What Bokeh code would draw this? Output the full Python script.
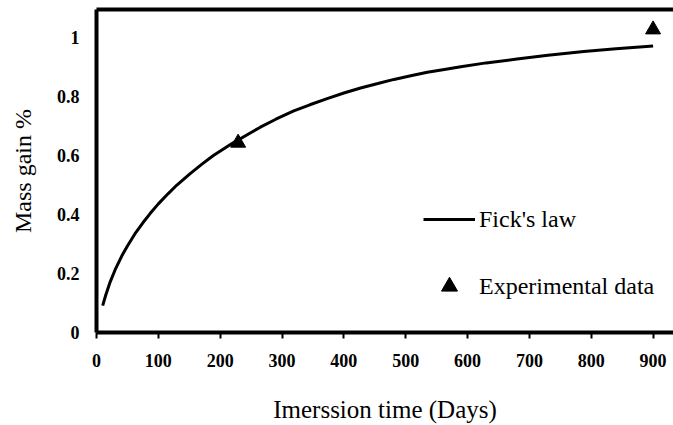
from bokeh.plotting import figure
from bokeh.models import Range1d, LinearAxis, FixedTicker, Legend, LegendItem
from bokeh.embed import file_html
from bokeh.resources import INLINE

# Fick's law curve
fick_days = [10, 15, 22, 30, 41, 50, 62, 75, 87, 100, 116, 130, 151, 170, 189, 221, 250, 265,
             290, 319, 345, 373, 400, 427, 455, 481, 510, 535, 560, 589, 630, 680, 730, 788, 840, 900]
fick_gain = [0.091, 0.127, 0.171, 0.212, 0.26, 0.293, 0.334, 0.372, 0.404, 0.436, 0.471, 0.500,
             0.538, 0.570, 0.600, 0.643, 0.678, 0.696, 0.723, 0.751, 0.772, 0.793, 0.812, 0.829,
             0.844, 0.858, 0.871, 0.882, 0.891, 0.901, 0.914, 0.927, 0.940, 0.953, 0.962, 0.971]

# Experimental data
exp_days = [229, 900]
exp_gain = [0.643, 1.027]

x_ticks = [0, 100, 200, 300, 400, 500, 600, 700, 800, 900]
y_ticks = [0, 0.2, 0.4, 0.6, 0.8, 1]
y_tick_labels = {0: "0", 0.2: "0.2", 0.4: "0.4", 0.6: "0.6", 0.8: "0.8", 1: "1"}

FONT = "Liberation Serif"

p = figure(width=673, height=425, output_backend="svg", toolbar_location=None,
           x_range=Range1d(0, 933), y_range=Range1d(0, 1.095),
           min_border_left=96, min_border_top=9, min_border_right=0, min_border_bottom=0)

p.outline_line_color = None
p.xgrid.visible = False
p.ygrid.visible = False

# bottom axis
xa = p.xaxis[0]
xa.ticker = FixedTicker(ticks=x_ticks)
xa.axis_line_width = 4
xa.axis_line_color = "black"
xa.major_tick_out = 6
xa.major_tick_in = 0
xa.major_tick_line_width = 2
xa.minor_tick_line_color = None
xa.major_label_text_font = FONT
xa.major_label_text_font_style = "bold"
xa.major_label_text_font_size = "18px"
xa.major_label_text_color = "black"
xa.major_label_standoff = 15
xa.axis_label = "Imerssion time (Days)"
xa.axis_label_text_font = FONT
xa.axis_label_text_font_style = "normal"
xa.axis_label_text_font_size = "25px"
xa.axis_label_text_color = "black"
xa.axis_label_standoff = 26

# left axis
ya = p.yaxis[0]
ya.ticker = FixedTicker(ticks=y_ticks)
ya.major_label_overrides = y_tick_labels
ya.axis_line_width = 4
ya.axis_line_color = "black"
ya.major_tick_out = 0
ya.major_tick_in = 0
ya.major_tick_line_color = None
ya.minor_tick_line_color = None
ya.major_label_text_font = FONT
ya.major_label_text_font_style = "bold"
ya.major_label_text_font_size = "18px"
ya.major_label_text_color = "black"
ya.major_label_standoff = 17
ya.axis_label = "Mass gain %"
ya.axis_label_text_font = FONT
ya.axis_label_text_font_style = "normal"
ya.axis_label_text_font_size = "24px"
ya.axis_label_text_color = "black"
ya.axis_label_standoff = 18

# top border line
top = LinearAxis(ticker=FixedTicker(ticks=[]), axis_line_width=4, axis_line_color="black",
                 major_tick_out=0, major_tick_in=0, minor_tick_out=0, minor_tick_in=0,
                 major_label_text_font_size="0px", major_label_standoff=0)
p.add_layout(top, "above")

line_r = p.line(fick_days, fick_gain, line_color="black", line_width=3)
pts_r = p.scatter(exp_days, exp_gain, marker="triangle", size=15,
                  fill_color="black", line_color="black")

legend = Legend(items=[LegendItem(label="Fick's law", renderers=[line_r]),
                       LegendItem(label="Experimental data", renderers=[pts_r])],
                location=(327, 26), orientation="vertical",
                glyph_width=52, glyph_height=40, label_standoff=4, spacing=27,
                padding=0, margin=0, border_line_color=None, background_fill_alpha=0,
                label_text_font=FONT, label_text_font_size="24px", label_text_color="black")
p.add_layout(legend, "center")

open("out.html", "w").write(file_html(p, INLINE))
